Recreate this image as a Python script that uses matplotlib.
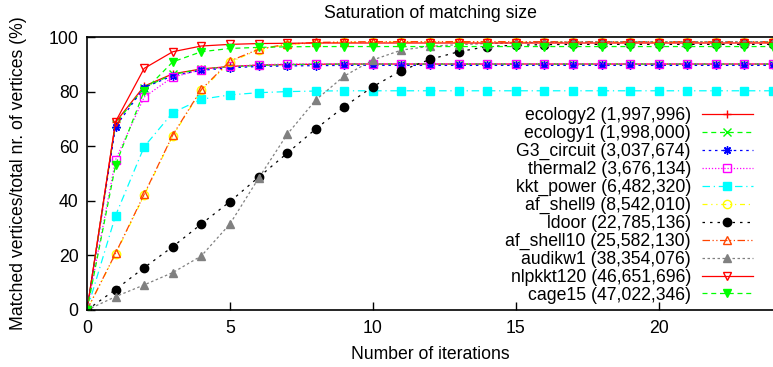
import numpy as np
import matplotlib
matplotlib.use('Agg')
import matplotlib.pyplot as plt

plt.rcParams['font.family'] = ['Liberation Sans', 'DejaVu Sans']

# iterations
iters = list(range(25))

# matched vertices (%) per matrix
ecology2 = [0, 68.8, 82.0, 86.5, 88.3, 89.2, 89.7, 89.9, 90.0, 90.1, 90.1, 90.1, 90.1,
            90.1, 90.1, 90.1, 90.1, 90.1, 90.1, 90.1, 90.1, 90.1, 90.1, 90.1, 90.1]
ecology1 = [0, 68.3, 81.5, 86.3, 88.2, 89.1, 89.6, 89.9, 90.0, 90.1, 90.1, 90.1, 90.1,
            90.1, 90.1, 90.1, 90.1, 90.1, 90.1, 90.1, 90.1, 90.1, 90.1, 90.1, 90.1]
g3_circuit = [0, 67.2, 81.5, 85.8, 87.8, 88.7, 89.2, 89.4, 89.5, 89.6, 89.6, 89.6, 89.6,
              89.6, 89.6, 89.6, 89.6, 89.6, 89.6, 89.6, 89.6, 89.6, 89.6, 89.6, 89.6]
thermal2 = [0, 55.0, 78.0, 85.3, 88.0, 89.2, 89.8, 90.1, 90.2, 90.2, 90.2, 90.2, 90.2,
            90.2, 90.2, 90.2, 90.2, 90.2, 90.2, 90.2, 90.2, 90.2, 90.2, 90.2, 90.2]
kkt_power = [0, 34.6, 59.8, 72.3, 77.2, 78.8, 79.6, 80.0, 80.2, 80.3, 80.3, 80.3, 80.3,
             80.3, 80.3, 80.3, 80.3, 80.3, 80.3, 80.3, 80.3, 80.3, 80.3, 80.3, 80.3]
af_shell9 = [0, 20.5, 42.0, 63.8, 80.5, 90.8, 95.3, 97.2, 97.8, 98.0, 98.1, 98.1, 98.1,
             98.1, 98.1, 98.1, 98.1, 98.1, 98.1, 98.1, 98.1, 98.1, 98.1, 98.1, 98.1]
ldoor = [0, 7.5, 15.5, 23.2, 31.5, 39.7, 48.6, 57.4, 66.3, 74.5, 81.8, 87.7, 91.8,
         94.6, 96.5, 97.0, 97.2, 97.3, 97.3, 97.3, 97.3, 97.3, 97.3, 97.3, 97.3]
af_shell10 = [0, 20.8, 42.4, 64.1, 80.8, 91.2, 95.5, 97.4, 98.0, 98.2, 98.3, 98.3, 98.3,
              98.3, 98.3, 98.3, 98.3, 98.3, 98.3, 98.3, 98.3, 98.3, 98.3, 98.3, 98.3]
audikw1 = [0, 4.9, 9.2, 13.7, 19.8, 31.5, 48.2, 64.3, 76.9, 85.7, 91.6, 95.2, 96.6,
           97.2, 97.6, 97.9, 98.1, 98.2, 98.3, 98.3, 98.3, 98.3, 98.3, 98.3, 98.3]
nlpkkt120 = [0, 69.0, 88.5, 94.6, 96.7, 97.3, 97.6, 97.7, 97.8, 97.8, 97.8, 97.8, 97.8,
             97.8, 97.8, 97.8, 97.8, 97.8, 97.8, 97.8, 97.8, 97.8, 97.8, 97.8, 97.8]
cage15 = [0, 53.1, 80.2, 90.9, 94.6, 95.8, 96.2, 96.4, 96.5, 96.5, 96.5, 96.5, 96.5,
          96.5, 96.5, 96.5, 96.5, 96.5, 96.5, 96.5, 96.5, 96.5, 96.5, 96.5, 96.5]

labels = ['ecology2 (1,997,996)', 'ecology1 (1,998,000)', 'G3_circuit (3,037,674)',
          'thermal2 (3,676,134)', 'kkt_power (6,482,320)', 'af_shell9 (8,542,010)',
          'ldoor (22,785,136)', 'af_shell10 (25,582,130)', 'audikw1 (38,354,076)',
          'nlpkkt120 (46,651,696)', 'cage15 (47,022,346)']
series = [ecology2, ecology1, g3_circuit, thermal2, kkt_power, af_shell9,
          ldoor, af_shell10, audikw1, nlpkkt120, cage15]

# (color, dashes, marker, filled)
styles = [
    ('#ff0000', '-', '+', True),
    ('#00ff00', (0, (4, 3)), 'x', True),
    ('#0000ff', (0, (2, 3)), (8, 2, 0), True),
    ('#ff00ff', (0, (1, 1.5)), 's', False),
    ('#00ffff', (0, (6, 3, 1, 3)), 's', True),
    ('#ffff00', (0, (4, 3, 1, 3, 1, 3)), 'o', False),
    ('#000000', (0, (2, 4)), 'o', True),
    ('#ff4500', (0, (6, 2, 1, 2, 1, 2)), '^', False),
    ('#808080', (0, (2, 2)), '^', True),
    ('#ff0000', '-', 'v', False),
    ('#00ff00', (0, (4, 3)), 'v', True),
]

fs = 12.7

fig = plt.figure(figsize=(7.73, 3.67), dpi=100)
ax = fig.add_axes([87 / 773, 1 - 310 / 367, 1 - 87 / 773, (310 - 37) / 367])

for y, lab, (col, ls, mk, filled) in zip(series, labels, styles):
    ax.plot(iters, y, color=col, linestyle=ls, linewidth=0.9, marker=mk,
            markersize=6, markeredgewidth=1.0,
            markerfacecolor=col if filled else 'none', markeredgecolor=col,
            label=lab)

ax.set_xlim(0, 24)
ax.set_ylim(0, 100)
ax.set_xticks([0, 5, 10, 15, 20])
ax.set_yticks([0, 20, 40, 60, 80, 100])
ax.tick_params(direction='in', length=6, width=1, labelsize=fs)
ax.tick_params(axis='x', pad=7)
ax.tick_params(axis='y', pad=6)
ax.spines['right'].set_visible(False)
for s in ['left', 'bottom', 'top']:
    ax.spines[s].set_linewidth(1.2)

ax.set_title('Saturation of matching size', fontsize=fs, pad=14)
ax.set_xlabel('Number of iterations', fontsize=fs, labelpad=7)
ax.set_ylabel('Matched vertices/total nr. of vertices (%)', fontsize=fs, labelpad=16)

ax.legend(loc='upper right', bbox_to_anchor=(753 / 773, 1 - 107 / 367),
          bbox_transform=fig.transFigure, frameon=False, markerfirst=False,
          fontsize=fs, handlelength=2.9, handletextpad=0.62, labelspacing=0.05,
          borderpad=0, borderaxespad=0)

fig.savefig('out.png', dpi=100)
